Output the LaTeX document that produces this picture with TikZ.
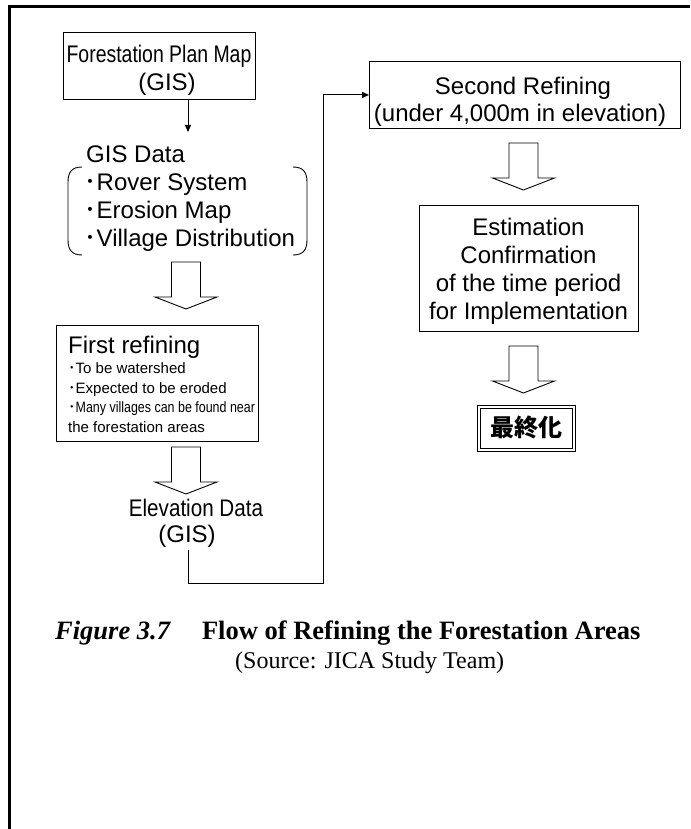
\documentclass[tikz,border=0pt]{standalone}
\usepackage{fontspec}
\usepackage{graphicx}
\setmainfont{Liberation Sans}
\newfontfamily\serif{Liberation Serif}
\newfontfamily\cjk{Noto Sans CJK JP}
\usetikzlibrary{arrows.meta}

\tikzset{
  box/.style={draw=black, line width=0.9pt, inner sep=0pt},
  txt/.style={inner sep=0pt, font=\fontsize{24}{27.5}\selectfont},
  smalltxt/.style={inner sep=0pt, font=\fontsize{15}{19}\selectfont},
  conn/.style={line width=0.9pt, -{Triangle[length=7pt,width=6pt]}},
  plainline/.style={line width=0.9pt},
  hollow/.style={draw=black, line width=0.9pt, fill=white, line join=miter},
  framepen/.style={line width=3pt, line join=miter},
}
\newcommand\hollowarr[2]{%
  \draw[hollow] (#1-14.5,#2) -- (#1+14.5,#2) -- (#1+14.5,#2+35) -- (#1+31,#2+35)
    -- (#1,#2+47) -- (#1-31,#2+35) -- (#1-14.5,#2+35) -- cycle;}

\begin{document}
\begin{tikzpicture}[x=1pt,y=-1pt]
\useasboundingbox (0,0) rectangle (690,829);
% outer frame (left and top only)
\draw[framepen] (9,829) -- (9,6.5) -- (690,6.5);

% Forestation Plan Map
\node[box, minimum width=192pt, minimum height=67pt, anchor=north west] (fpm) at (63,32) {};
\node[txt, anchor=base] (fpm1) at (159,63) {\scalebox{0.81}[1]{Forestation Plan Map}};
\node[txt, anchor=base] (fpm2) at (167,91) {(GIS)};

% thin arrow to GIS data
\coordinate (gtip) at (188,132);
\draw[conn] (fpm.south -| gtip) -- (gtip);

% GIS Data list
\node[txt, anchor=base west] (gisd) at (86,163) {GIS Data};
\node[txt, anchor=base west] (g1) at (84.5,190) {{\cjk ･}Rover System};
\node[txt, anchor=base west] (g2) at (84.5,218) {{\cjk ･}Erosion Map};
\node[txt, anchor=base west] (g3) at (84.5,246) {{\cjk ･}Village Distribution};
\draw[plainline] (82,167) .. controls (72,167) and (68,172) .. (68,182) -- (68,240)
  .. controls (68,250) and (72,255) .. (82,255);
\draw[plainline] (293,167) .. controls (303,167) and (307,172) .. (307,182) -- (307,240)
  .. controls (307,250) and (303,255) .. (293,255);

% hollow arrows
\hollowarr{186}{262}
\hollowarr{186}{447}
\hollowarr{523.5}{143}
\hollowarr{523.5}{346}

% First refining
\node[box, minimum width=202pt, minimum height=116pt, anchor=north west] (fr) at (56,325) {};
\node[txt, anchor=base west] (frt) at (68,353) {First refining};
\node[smalltxt, anchor=base west] (fr1) at (68,373) {{\cjk ･}To be watershed};
\node[smalltxt, anchor=base west] (fr2) at (68,393) {{\cjk ･}Expected to be eroded};
\node[smalltxt, anchor=base west] (fr3) at (68,412) {{\cjk ･}\scalebox{0.83}[1]{Many villages can be found near}};
\node[smalltxt, anchor=base west] (fr4) at (68,432) {the forestation areas};

% Elevation Data
\node[txt, anchor=base] (el1) at (196,516) {\scalebox{0.86}[1]{Elevation Data}};
\node[txt, anchor=base] (el2) at (187,542) {(GIS)};

% Second Refining
\node[box, minimum width=311pt, minimum height=67pt, anchor=north west] (sr) at (369,61) {};
\node[txt, anchor=base] (sr1) at (523,95) {Second Refining};
\node[txt, anchor=base] (sr2) at (520,122) {(under 4,000m in elevation)};

% connector Elevation -> Second Refining
\coordinate (e0) at (188,550);
\coordinate (c1) at (323,583);
\draw[conn] (e0) |- (c1) |- (sr.west);

% Estimation box
\node[box, minimum width=219pt, minimum height=126pt, anchor=north west] (est) at (419,205) {};
\node[txt, anchor=base] (es1) at (528.5,235) {Estimation};
\node[txt, anchor=base] (es2) at (528.5,263) {Confirmation};
\node[txt, anchor=base] (es3) at (528.5,291) {of the time period};
\node[txt, anchor=base] (es4) at (528.5,319) {for Implementation};

% final box (double frame)
\node[box, minimum width=98pt, minimum height=46pt,
  font=\cjk\bfseries\fontsize{24}{24}\selectfont] (fin) at (526,428) {最終化};
\draw[line width=0.9pt] ([shift={(3.5,3.5)}]fin.north west) rectangle ([shift={(-3.5,-3.5)}]fin.south east);

% caption
\node[anchor=base west, inner sep=0pt, font=\serif\bfseries\fontsize{26.5}{30}\selectfont] (cap) at (55,639)
  {\itshape Figure 3.7\hspace{32pt}\upshape Flow of Refining the Forestation Areas};
\node[anchor=base west, inner sep=0pt, font=\serif\fontsize{24}{28}\selectfont] (src) at (235,668)
  {(Source: JICA Study Team)};
\end{tikzpicture}
\end{document}
